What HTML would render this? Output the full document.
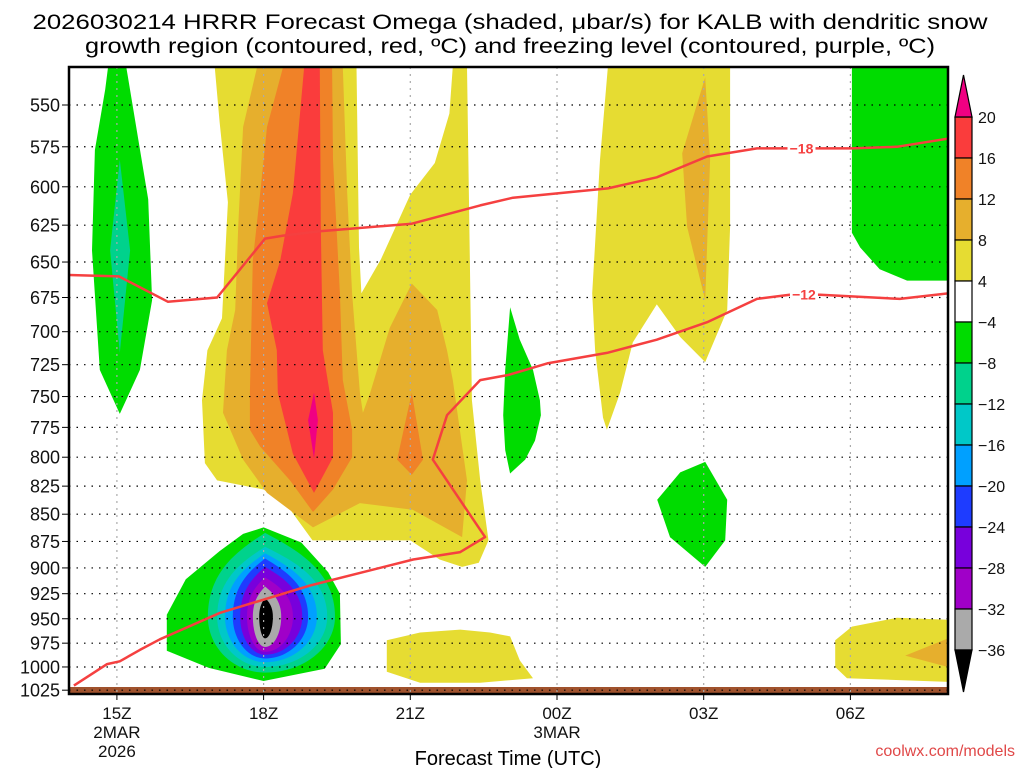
<!DOCTYPE html>
<html><head><meta charset="utf-8"><style>
body{margin:0;background:#fff;width:1024px;height:768px;overflow:hidden}
svg{display:block;font-family:"Liberation Sans",sans-serif}
</style></head><body>
<svg id="chart" width="1024" height="768" viewBox="0 0 1024 768" xmlns="http://www.w3.org/2000/svg">
<text x="510" y="29" font-size="21" text-anchor="middle" textLength="955" lengthAdjust="spacingAndGlyphs">2026030214 HRRR Forecast Omega (shaded, μbar/s) for KALB with dendritic snow</text>
<text x="510" y="53" font-size="21" text-anchor="middle" textLength="850" lengthAdjust="spacingAndGlyphs">growth region (contoured, red, ºC) and freezing level (contoured, purple, ºC)</text>
<g id="fills"></g>
<g id="grid"></g>
<g id="lines"></g>
<g id="axes"></g>
<g id="cbar"></g>
<text x="508" y="765" font-size="20" text-anchor="middle">Forecast Time (UTC)</text>
<text x="1015" y="756" font-size="16" text-anchor="end" fill="#e04848">coolwx.com/models</text>
</svg>
<script>
const hourTicks=[15,18,21,24,27,30];
const hourLabels=['15Z','18Z','21Z','00Z','03Z','06Z'];
const dateLabels=['2MAR','','','3MAR','',''];
const yearLabels=['2026','','','','',''];
const levels=[550,575,600,625,650,675,700,725,750,775,800,825,850,875,900,925,950,975,1000,1025];
const cbarLabels=['20','16','12','8','4','−4','−8','−12','−16','−20','−24','−28','−32','−36'];
const cbarColors=['#fa3c3c','#f08228','#e6af2d','#e6dc32','#ffffff','#00dc00','#00d28c','#00c8c8','#00a0ff','#1e3cff','#7800dc','#a000c8','#aaaaaa'];
// shaded contour regions [hour, pressure]
const yellowMain=[[17.0,528],[19.9,528],[19.95,640],[20.0,672],[20.4,648],[21.0,605],[21.5,585],[21.8,555],[21.87,528],[22.16,528],[22.2,610],[22.26,753],[22.43,820],[22.6,874],[22.4,895],[22.06,899],[21.6,892],[21.0,874],[19.97,874],[19.0,874],[18.48,842],[18.0,828],[17.05,820],[16.8,805],[16.74,753],[16.85,714],[17.15,690],[17.27,610],[17.1,560]];
const orange8Main=[[17.87,528],[19.62,528],[19.71,604],[19.81,672],[19.97,747],[20.03,763],[20.18,747],[20.58,697],[21.03,665],[21.55,684],[21.75,714],[21.87,737],[22.16,820],[22.06,871],[21.05,846],[19.97,840],[19.01,862],[18.07,831],[17.58,802],[17.17,763],[17.21,737],[17.25,714],[17.42,684],[17.48,626],[17.58,563]];
const orange12Main=[[18.4,528],[19.4,528],[19.42,583],[19.56,672],[19.62,737],[19.81,777],[19.81,800],[19.42,828],[19.01,848],[18.54,820],[17.93,791],[17.72,777],[17.72,747],[17.78,649],[17.93,604],[18.07,563]];
const orange12Small=[[21.03,747],[21.26,802],[21.03,815],[20.73,802]];
const red16Main=[[18.83,528],[19.15,528],[19.17,626],[19.21,714],[19.42,763],[19.42,800],[19.03,831],[18.6,797],[18.29,747],[18.27,714],[18.07,679],[18.34,649],[18.6,604]];
const magenta20=[[19.03,747],[19.11,769],[19.03,801],[18.91,769]];
const yellowMid=[[25.04,528],[27.54,528],[27.54,626],[27.48,684],[27.03,723],[26.52,704],[26.04,680],[25.55,708],[25.29,747],[25.02,777],[24.94,767],[24.78,714],[24.72,672],[24.88,583]];
const orange8Mid=[[27.03,534],[27.13,583],[27.03,677],[26.66,626],[26.56,579]];
const yellowLow21=[[20.52,972],[21.2,964],[22.02,961],[22.63,964],[23.04,968],[23.24,993],[23.51,1012],[22.43,1017],[21.2,1017],[20.52,1005]];
const yellowLow06=[[29.69,972],[30.03,958],[30.95,949],[32.0,951],[32.0,1016],[29.93,1012],[29.69,1000]];
const orange8Low06=[[31.12,988],[32.0,970],[32.0,1000]];
const greenLeft=[[14.82,528],[15.19,528],[15.64,608],[15.72,677],[15.47,729],[15.06,764],[14.65,729],[14.49,642],[14.55,577],[14.76,541]];
const tealLeft=[[15.06,583],[15.27,642],[15.06,716],[14.86,642]];
const greenTongue=[[23.04,682],[23.24,706],[23.51,729],[23.65,753],[23.67,765],[23.55,786],[23.35,802],[23.04,814],[22.94,794],[22.9,765],[22.94,729]];
const green03=[[27.03,804],[27.48,837],[27.44,874],[27.03,899],[26.31,871],[26.05,837],[26.52,813]];
const greenRight=[[30.03,528],[32.1,528],[32.1,663],[31.16,663],[30.6,655],[30.2,640],[30.03,630]];
const greenBlob18=[[18.0,862],[18.77,876],[19.32,904],[19.56,925],[19.58,976],[19.25,1002],[18.0,1015],[16.88,1001],[16.02,983],[16.02,946],[16.41,911],[17.1,884],[17.58,868]];
// negative omega rings around the 18Z minimum
const ringLeft=[16.86,17.21,17.37,17.52,17.66,17.78,17.91];
const ringRight=[19.46,19.30,19.09,18.91,18.79,18.60,18.36,18.19];
const ringTop=[867,880,886,891,899,909,918,929];
const ringBottom=[1006,1000,995,991,987,984,979,970];
const ringLeftAll=[16.86,17.05,17.21,17.37,17.52,17.66,17.78,17.91];
const ringColors=['#00d28c','#00c8c8','#00a0ff','#1e3cff','#7800dc','#a000c8','#aaaaaa','#000000'];
const ringCenterHour=18.03, ringCenterP=948;
// temperature contours
const line18H=[14.0,15.04,16.04,17.05,18.03,18.4,19.15,21.03,22.43,23.1,25.04,26.04,27.07,28.09,28.76,29.32,30.03,30.95,32.0];
const line18P=[659,660,678,675,634,632,629,624,612,607,601,594,581,576,576,576,576,575,570];
const line12H=[14.12,14.8,15.06,15.47,15.88,17.11,18.95,21.06,22.02,22.53,21.46,21.75,22.43,23.0,23.8,25.02,26.04,27.07,28.09,28.76,29.38,31.01,32.0];
const line12P=[1020,997,994,982,971,944,917,892,885,871,802,765,737,733,724,716,706,693,676,673,673,676,672];

const X=h=>68+(h-14)*48.9;
const Y=p=>105+940*Math.log(p/550);
const NS='http://www.w3.org/2000/svg';
function mk(tag,parent,attrs){const e=document.createElementNS(NS,tag);for(const k in attrs)e.setAttribute(k,attrs[k]);parent.appendChild(e);return e;}
const fills=document.getElementById('fills');
const clip=mk('clipPath',document.getElementById('chart'),{id:'plotclip'});
mk('rect',clip,{x:69,y:67,width:879,height:627});
fills.setAttribute('clip-path','url(#plotclip)');
function poly(pts,color,name){
  const e=mk('polygon',fills,{points:pts.map(q=>X(q[0]).toFixed(1)+','+Y(q[1]).toFixed(1)).join(' '),fill:color});
  
  
}
poly(yellowMain,'#e6dc32','omega-4-8-main');
poly(orange8Main,'#e6af2d','omega-8-12-main');
poly(orange12Main,'#f08228','omega-12-16-main');
poly(orange12Small,'#f08228','omega-12-16-small');
poly(red16Main,'#fa3c3c','omega-16-20-main');
poly(magenta20,'#f00082','omega-above-20');
poly(yellowMid,'#e6dc32','omega-4-8-mid');
poly(orange8Mid,'#e6af2d','omega-8-12-mid');
poly(yellowLow21,'#e6dc32','omega-4-8-low-21z');
poly(yellowLow06,'#e6dc32','omega-4-8-low-06z');
poly(orange8Low06,'#e6af2d','omega-8-12-low-06z');
poly(greenLeft,'#00dc00','omega-neg4-left');
poly(tealLeft,'#00d28c','omega-neg8-left');
poly(greenTongue,'#00dc00','omega-neg4-tongue');
poly(green03,'#00dc00','omega-neg4-03z');
poly(greenRight,'#00dc00','omega-neg4-right');
poly(greenBlob18,'#00dc00','omega-neg4-18z');
for(let i=0;i<ringColors.length;i++){
  const l=X(ringLeftAll[i]),r=X(ringRight[i]),t=Y(ringTop[i]),b=Y(ringBottom[i]);
  const cx=X(ringCenterHour),cy=Y(ringCenterP);
  const d=`M${cx},${t} C${cx+(r-cx)*0.45},${t+(cy-t)*0.2} ${r},${cy-(cy-t)*0.55} ${r},${cy} C${r},${cy+(b-cy)*0.55} ${cx+(r-cx)*0.55},${b} ${cx},${b} C${cx-(cx-l)*0.55},${b} ${l},${cy+(b-cy)*0.55} ${l},${cy} C${l},${cy-(cy-t)*0.55} ${cx-(cx-l)*0.45},${t+(cy-t)*0.2} ${cx},${t} Z`;
  const e=mk('path',fills,{d:d,fill:ringColors[i]});
  
  
}
const ground=mk('rect',fills,{x:69,y:687,width:879,height:7,fill:'#a0522d'});



// grid
const grid=document.getElementById('grid');
levels.forEach(p=>{const e=mk('line',grid,{x1:69,x2:948,y1:Y(p),y2:Y(p),stroke:'#000','stroke-width':1.2,'stroke-dasharray':'1.5 6'});
  
  });
hourTicks.forEach(h=>{const e=mk('line',grid,{x1:X(h),x2:X(h),y1:67,y2:694,stroke:'#aaa','stroke-width':1.2,'stroke-dasharray':'2 5'});
  
  });

// contour lines
const lines=document.getElementById('lines');
lines.setAttribute('clip-path','url(#plotclip)');
function drawLine(H,P,label,lh,name){
  const e=mk('polyline',lines,{points:H.map((h,i)=>X(h).toFixed(1)+','+Y(P[i]).toFixed(1)).join(' '),fill:'none',stroke:'#f54040','stroke-width':2.5,'stroke-linejoin':'round'});
  
  
  let j=0;while(j<H.length-1&&H[j+1]<lh)j++;
  const f=(lh-H[j])/(H[j+1]-H[j]);const yy=Y(P[j])+(Y(P[j+1])-Y(P[j]))*f;
  const bg=mk('rect',lines,{x:X(lh)-14,y:yy-7,width:28,height:14,fill:'#fff'});
  
  
  const t=mk('text',lines,{x:X(lh),y:yy+5,'font-size':14,'font-weight':'bold',fill:'#f54040','text-anchor':'middle'});
  t.textContent=label;
  
  
}
drawLine(line18H,line18P,'−18',29.0,'contour-minus-18');
drawLine(line12H,line12P,'−12',29.05,'contour-minus-12');

// axes
const axes=document.getElementById('axes');
const frame=mk('rect',axes,{x:69,y:67,width:879,height:627,fill:'none',stroke:'#000','stroke-width':2.5});


levels.forEach(p=>{
  const tk=mk('line',axes,{x1:62,x2:69,y1:Y(p),y2:Y(p),stroke:'#000','stroke-width':1});
  
  
  const t=mk('text',axes,{x:60,y:Y(p)+6.5,'font-size':18,'text-anchor':'end',fill:'#111'});
  t.textContent=p;
  
  
});
hourTicks.forEach((h,i)=>{
  const tk=mk('line',axes,{x1:X(h),x2:X(h),y1:694,y2:700,stroke:'#000','stroke-width':1});
  
  
  [hourLabels[i],dateLabels[i],yearLabels[i]].forEach((s,k)=>{
    if(!s)return;
    const t=mk('text',axes,{x:X(h),y:719+k*19,'font-size':17,'text-anchor':'middle',fill:'#111'});
    t.textContent=s;
    
    
  });
});

// colorbar
const cb=document.getElementById('cbar');
const cbTop=117,cbStep=41,cbX=955,cbW=17;
cbarColors.forEach((c,i)=>{
  const r=mk('rect',cb,{x:cbX,y:cbTop+i*cbStep,width:cbW,height:cbStep,fill:c,stroke:'#000','stroke-width':1.2});
  
  
});
const upTri=mk('polygon',cb,{points:`${cbX},${cbTop} ${cbX+cbW},${cbTop} ${cbX+cbW/2},${cbTop-42}`,fill:'#f00082',stroke:'#000','stroke-width':1.2});


const cbBot=cbTop+cbarColors.length*cbStep;
const dnTri=mk('polygon',cb,{points:`${cbX},${cbBot} ${cbX+cbW},${cbBot} ${cbX+cbW/2},${cbBot+42}`,fill:'#000',stroke:'#000','stroke-width':1.2});


cbarLabels.forEach((s,i)=>{
  const t=mk('text',cb,{x:978,y:cbTop+i*cbStep+6,'font-size':16,fill:'#111'});
  t.textContent=s;
  
  
});
</script>
</body></html>
